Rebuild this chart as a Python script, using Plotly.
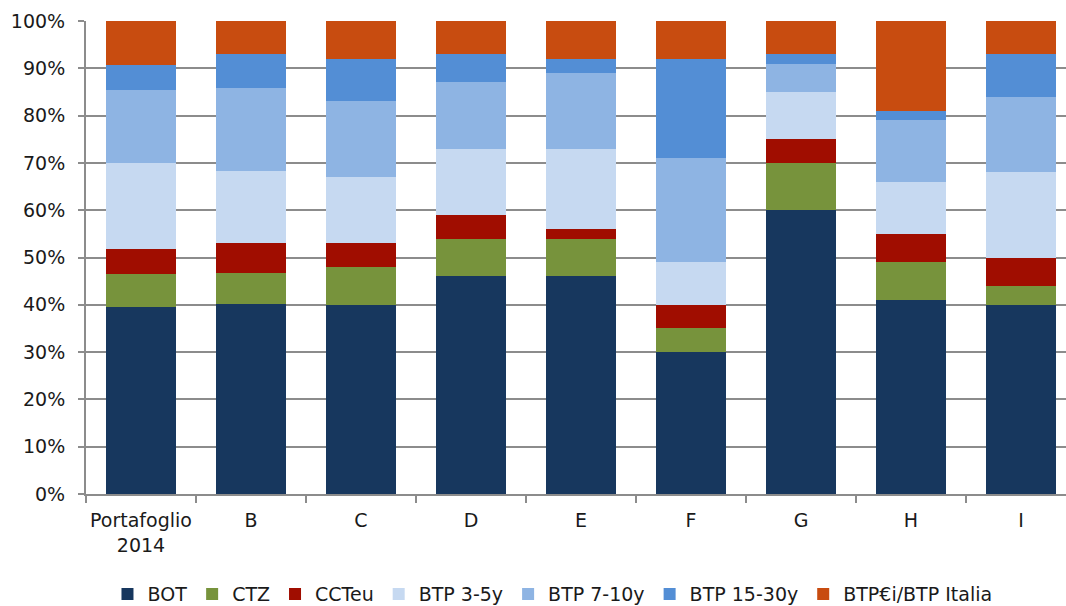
import plotly.graph_objects as go

# Composition of each portfolio by instrument type (% of total)
categories = ["Portafoglio<br>2014", "B", "C", "D", "E", "F", "G", "H", "I"]
series_names = ["BOT", "CTZ", "CCTeu", "BTP 3-5y", "BTP 7-10y", "BTP 15-30y", "BTP€i/BTP Italia"]

bot = [39.5, 40.1, 40, 46, 46, 30, 60, 41, 40]
ctz = [7.0, 6.7, 8, 8, 8, 5, 10, 8, 4]
ccteu = [5.3, 6.3, 5, 5, 2, 5, 5, 6, 6]
btp_3_5 = [18.2, 15.2, 14, 14, 17, 9, 10, 11, 18]
btp_7_10 = [15.4, 17.5, 16, 14, 16, 22, 6, 13, 16]
btp_15_30 = [5.3, 7.2, 9, 6, 3, 21, 2, 2, 9]
btp_italia = [9.3, 7.0, 8, 7, 8, 8, 7, 19, 7]

y_ticks = [0, 10, 20, 30, 40, 50, 60, 70, 80, 90, 100]

series_values = [bot, ctz, ccteu, btp_3_5, btp_7_10, btp_15_30, btp_italia]
colors = ["#17375E", "#77933C", "#A00D00", "#C6D9F1", "#8EB4E3", "#538ED5", "#C84C10"]

font_family = "DejaVu Sans"
grid_gray = "#8C8C8C"

fig = go.Figure()
for name, vals, col in zip(series_names, series_values, colors):
    fig.add_trace(go.Bar(
        name=name,
        x=categories,
        y=vals,
        marker=dict(color=col, line=dict(width=0)),
    ))

fig.update_layout(
    barmode="stack",
    bargap=0.36,
    width=1066,
    height=606,
    margin=dict(l=86, r=0, t=21, b=112, autoexpand=False),
    paper_bgcolor="white",
    plot_bgcolor="white",
    font=dict(family=font_family, size=19, color="#1A1A1A"),
    legend=dict(
        orientation="h",
        x=0.476,
        xanchor="center",
        y=-0.2115,
        yanchor="middle",
        font=dict(family=font_family, size=19, color="#1A1A1A"),
        traceorder="normal",
        itemclick=False,
    ),
    xaxis=dict(
        type="category",
        range=[-0.5, 8.409],
        automargin=False,
        tickangle=0,
        showgrid=False,
        showline=True,
        linecolor=grid_gray,
        linewidth=2,
        ticks="outside",
        tickson="boundaries",
        ticklen=7,
        tickwidth=2,
        tickcolor=grid_gray,
        ticklabelstandoff=8,
        tickfont=dict(family=font_family, size=19, color="#1A1A1A"),
    ),
    yaxis=dict(
        range=[0, 100],
        automargin=False,
        tickvals=y_ticks,
        ticktext=[f"{v}%" for v in y_ticks],
        showgrid=True,
        gridcolor=grid_gray,
        gridwidth=2,
        zeroline=False,
        showline=True,
        linecolor=grid_gray,
        linewidth=2,
        ticks="outside",
        ticklen=6,
        tickwidth=2,
        tickcolor=grid_gray,
        ticklabelstandoff=9,
        tickfont=dict(family=font_family, size=19, color="#1A1A1A"),
    ),
)

fig.write_html("out.html")
